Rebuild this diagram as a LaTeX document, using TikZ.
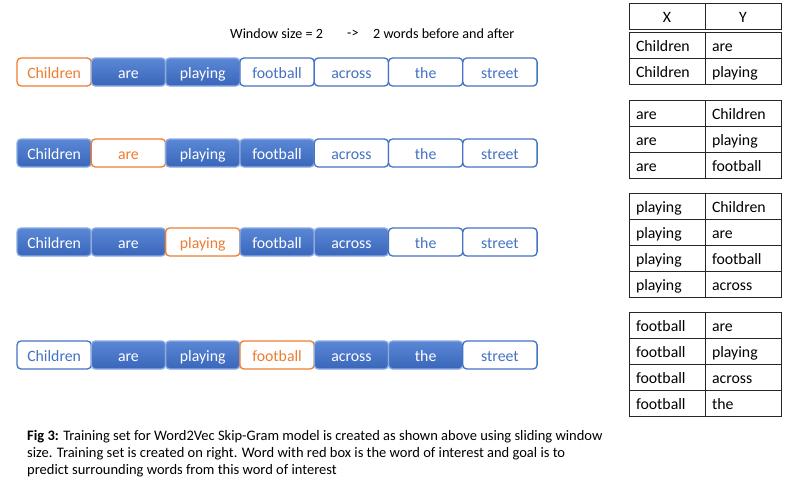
\documentclass[tikz,border=0pt]{standalone}
\usepackage{fontspec}
\setmainfont{Carlito}
\usepackage{xcolor}
\usetikzlibrary{positioning}

\definecolor{wordblue}{HTML}{4472C4}
\definecolor{wordorange}{HTML}{ED7D31}
\definecolor{shadetop}{HTML}{5B87D6}
\definecolor{shadebot}{HTML}{3A66BA}

\begin{document}
\begin{tikzpicture}[x=1pt, y=-1pt, font=\fontsize{15.8}{18}\selectfont]
        \tikzstyle{word} = [rectangle, rounded corners=4pt, minimum width=74.3pt,
            minimum height=28pt, inner sep=0pt, outer sep=0pt, line width=1.3pt,
            text height=13pt, text depth=1pt]
        \tikzstyle{filled} = [word, draw=shadetop!70!white, top color=shadetop,
            bottom color=shadebot, text=white]
        \tikzstyle{hollow} = [word, draw=wordblue, fill=white, text=wordblue]
        \tikzstyle{focus} = [word, draw=wordorange, fill=white, text=wordorange]
        \tikzstyle{cell} = [rectangle, draw=black!85, line width=0.8pt, minimum width=76pt,
            minimum height=26pt, inner sep=0pt, outer sep=0pt, text width=62pt, align=left,
            text height=13pt, text depth=1pt]
        \tikzstyle{head} = [cell, align=center]
        \tikzstyle{note} = [anchor=west, inner sep=0pt, font=\fontsize{14.1}{16}\selectfont]

        \useasboundingbox (0,0) rectangle (800,482);

        % window size remark
        \node [note] (window) at (230,34) {Window size = 2};
        \node [note] (arrowtxt) at (347,34) {->};
        \node [note] (meaning) at (373,34) {2 words before and after};

        % sliding window over the sentence
        \foreach \row/\ypos/\sa/\sb/\sc/\sd/\se/\sf/\sg in {
            1/72/focus/filled/filled/hollow/hollow/hollow/hollow,
            2/153/filled/focus/filled/filled/hollow/hollow/hollow,
            3/242/filled/filled/focus/filled/filled/hollow/hollow,
            4/355/hollow/filled/filled/focus/filled/filled/hollow} {
            \node [\sa] (children\row) at (54.15,\ypos) {Children};
            \node [\sb, right=0pt of children\row] (are\row) {are};
            \node [\sc, right=0pt of are\row] (playing\row) {playing};
            \node [\sd, right=0pt of playing\row] (football\row) {football};
            \node [\se, right=0pt of football\row] (across\row) {across};
            \node [\sf, right=0pt of across\row] (the\row) {the};
            \node [\sg, right=0pt of the\row] (street\row) {street};
        }

        % training pairs
        \node [head] (hx) at (667,16) {X};
        \node [head, right=0pt of hx] (hy) {Y};
        \foreach \xw/\yw/\ypos [count=\n] in {
            Children/are/45, Children/playing/71,
            are/Children/113, are/playing/139, are/football/165,
            playing/Children/206, playing/are/232, playing/football/258, playing/across/284,
            football/are/325, football/playing/351, football/across/377, football/the/403} {
            \node [cell] (x\n) at (667,\ypos) {\xw};
            \node [cell, right=0pt of x\n] (y\n) {\yw};
        }

        % caption
        \node [anchor=north west, align=left, inner sep=0pt,
            font=\fontsize{14.5}{17}\selectfont] (caption) at (27,430)
            {\textbf{Fig 3:} Training set for Word2Vec Skip-Gram model is created as shown above using sliding window\\
             size. Training set is created on right. Word with red box is the word of interest and goal is to\\
             predict surrounding words from this word of interest};
      \end{tikzpicture}
\end{document}
